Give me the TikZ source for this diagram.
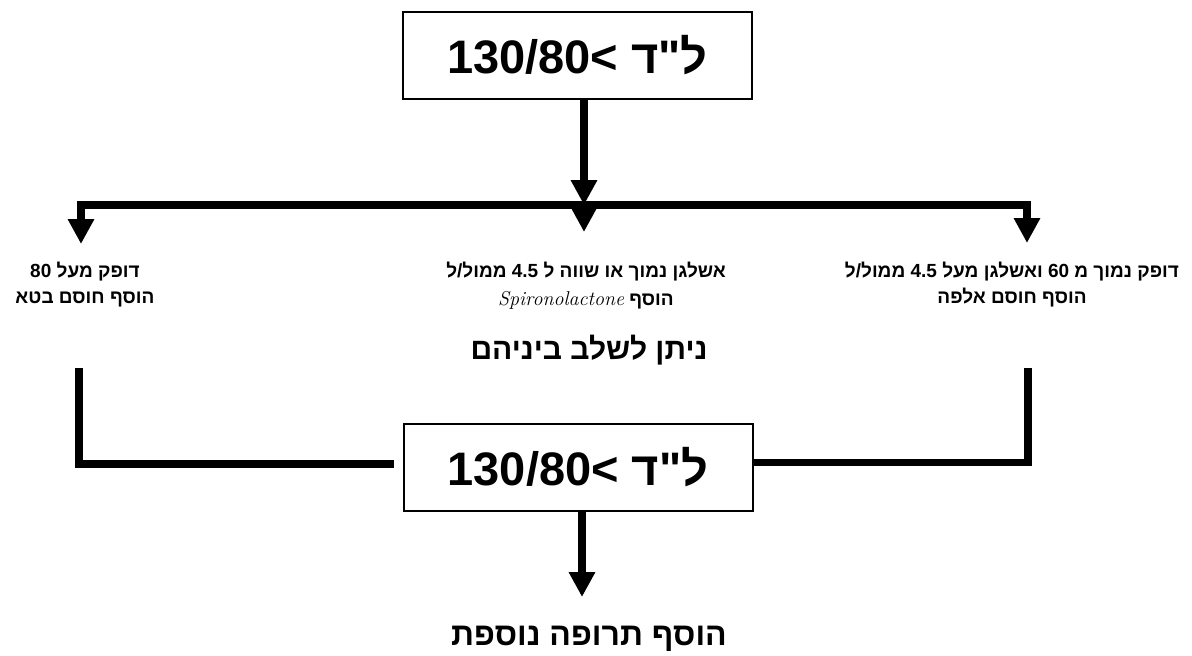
\documentclass[tikz,border=0pt]{standalone}
\usepackage{fontspec}
\usetikzlibrary{arrows.meta}
\TeXXeTstate=1
\newfontfamily\heb[Script=Hebrew]{Liberation Sans}
\newfontfamily\arl{Liberation Sans}
\newcommand{\bptext}{{\arl\bfseries 130/80<}\ \hbox{ד}\hbox{"}\hbox{ל}}
\tikzset{
  box/.style={draw, line width=2pt, minimum width=349pt, minimum height=87pt, inner sep=0pt,
    font=\heb\bfseries\fontsize{47}{50}\selectfont},
  thickline/.style={line width=7.5pt},
  arr/.style={thickline, -{Triangle[width=25pt,length=25pt]}},
  lbl/.style={font=\heb\bfseries\fontsize{19}{26}\selectfont, align=center, inner sep=0pt},
  big/.style={font=\heb\bfseries\fontsize{30}{34}\selectfont, inner sep=0pt},
  bigger/.style={font=\heb\bfseries\fontsize{32}{36}\selectfont, inner sep=0pt},
}
\begin{document}
\begin{tikzpicture}[x=1pt,y=-1pt]
\useasboundingbox (0,0) rectangle (1192,656);
% boxes
\node[box] (b1) at (577.5,55.5) {\bptext};
\node[box] (b2) at (578,467.5) {\bptext};
% coordinates
\coordinate (hl) at (584,205);
\coordinate (ltip) at (81,244);
\coordinate (rtip) at (1027,243);
\coordinate (mtip) at (584,232);
\coordinate (ltop) at (79,368);
\coordinate (rtop) at (1028,368);
\coordinate (ftip) at (582,597);
% texts
\node[lbl] (L) at (85,285) {\beginR דופק מעל 80\endR\\ \beginR הוסף חוסם בטא\endR};
\node[lbl] (M) at (586,286) {\beginR אשלגן נמוך או שווה ל 4.5 ממול/ל\endR\\[2pt]
  \beginR הוסף {\normalfont\itshape\fontsize{20}{26}\selectfont Spironolactone}\endR};
\node[lbl] (R) at (1012,285) {\beginR דופק נמוך מ 60 ואשלגן מעל 4.5 ממול/ל\endR\\ \beginR הוסף חוסם אלפה\endR};
\node[big] (C) at (589,350) {\beginR ניתן לשלב ביניהם\endR};
\node[bigger] (F) at (589,639) {\beginR הוסף תרופה נוספת\endR};
% connectors
\draw[arr] (b1.south -| hl) -- (hl);
\draw[thickline, {Triangle[width=25pt,length=25pt]}-{Triangle[width=25pt,length=25pt]}] (ltip) |- (hl) -| (rtip);
\draw[arr] (hl) -- (mtip);
\draw[thickline, shorten >=9pt] (ltop) |- ([yshift=3.5pt]b2.west);
\draw[thickline] (rtop) |- ([yshift=5pt]b2.east);
\draw[arr] (b2.south -| ftip) -- (ftip);
\end{tikzpicture}
\end{document}
